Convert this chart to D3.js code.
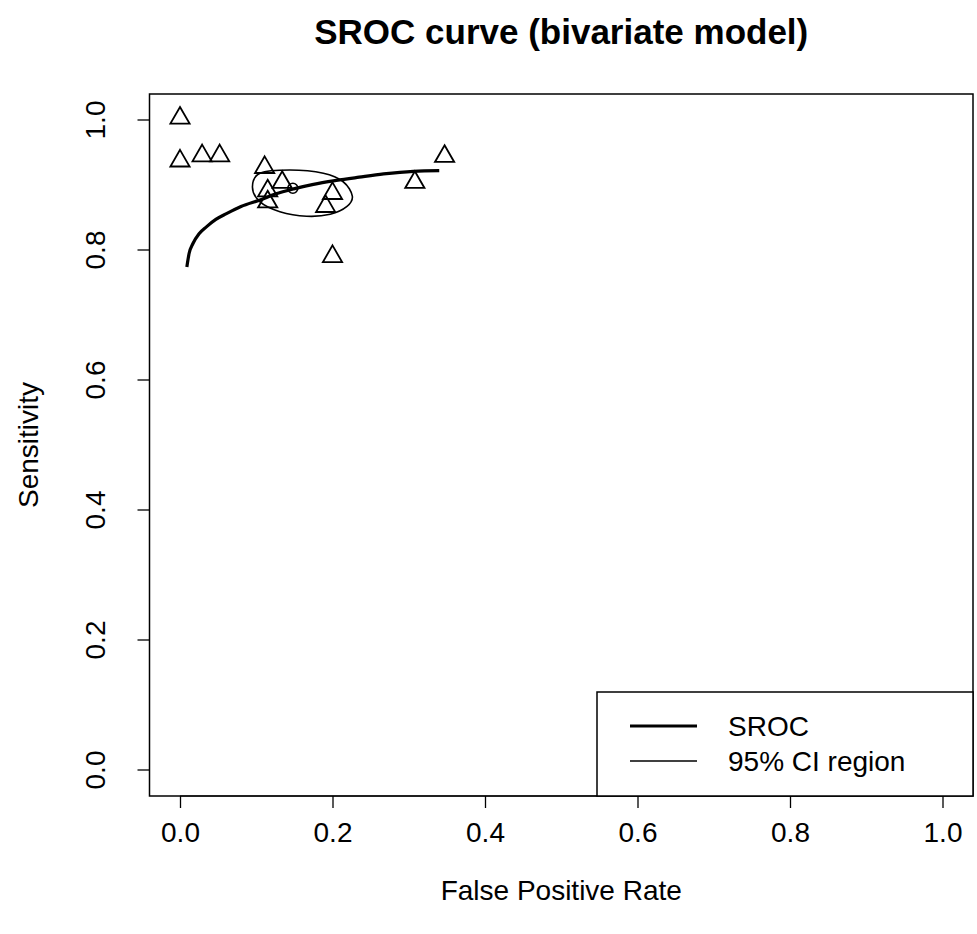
<!DOCTYPE html>
<html>
<head>
<meta charset="utf-8">
<script src="https://cdn.jsdelivr.net/npm/d3@7"></script>
<style>
  body { margin: 0; background: #fff; }
  svg text { font-family: "Liberation Sans", Arial, sans-serif; fill: #000; }
</style>
</head>
<body>
<div id="chart"></div>
<script>
// study estimates (false positive rate, sensitivity)
const studyFpr  = [0.000, 0.000, 0.029, 0.052, 0.111, 0.134, 0.115, 0.115, 0.200, 0.191, 0.200, 0.308, 0.347];
const studySens = [1.003, 0.937, 0.945, 0.945, 0.927, 0.904, 0.891, 0.874, 0.887, 0.867, 0.790, 0.904, 0.944];

// summary point
const summaryFpr = 0.148;
const summarySens = 0.895;

// SROC curve
const srocFpr  = [0.009, 0.012, 0.017, 0.025, 0.035, 0.047, 0.061, 0.080, 0.105, 0.125, 0.149, 0.175, 0.205, 0.235, 0.267, 0.306, 0.340];
const srocSens = [0.774, 0.795, 0.810, 0.825, 0.836, 0.847, 0.856, 0.867, 0.877, 0.886, 0.894, 0.901, 0.907, 0.912, 0.917, 0.921, 0.922];

// 95% confidence region outline
const ciFpr  = [0.105, 0.144, 0.188, 0.214, 0.226, 0.219, 0.197, 0.166, 0.131, 0.105, 0.095];
const ciSens = [0.918, 0.923, 0.918, 0.905, 0.883, 0.867, 0.855, 0.852, 0.859, 0.874, 0.897];

const tickVals = [0, 0.2, 0.4, 0.6, 0.8, 1.0];
const legendLabels = ["SROC", "95% CI region"];

//positional parameters
let svgWidth = 977;
let svgHeight = 934;
let plotLeft = 149.5, plotRight = 973, plotTop = 94, plotBottom = 796;

let svg = d3.select("#chart")
  .append("svg")
  .attr("width", svgWidth)
  .attr("height", svgHeight);

//scales with R style 4% padding
let xScale = d3.scaleLinear().domain([-0.04, 1.04]).range([plotLeft, plotRight]);
let yScale = d3.scaleLinear().domain([-0.04, 1.04]).range([plotBottom, plotTop]);

//x axis
let xAxis = d3.axisBottom(xScale)
  .tickValues(tickVals)
  .tickFormat(d3.format(".1f"))
  .tickSize(12)
  .tickPadding(14);
let xg = svg.append("g")
  .attr("transform", `translate(0,${plotBottom})`)
  .call(xAxis);
xg.select(".domain").attr("d", `M${xScale(0)},0H${xScale(1)}`);
xg.selectAll("line").attr("stroke", "#000").attr("stroke-width", 1.3);
xg.selectAll("text").attr("font-size", 28).attr("font-family", "Liberation Sans, Arial, sans-serif");

//y axis
let yAxis = d3.axisLeft(yScale)
  .tickValues(tickVals)
  .tickFormat(d3.format(".1f"))
  .tickSize(12);
let yg = svg.append("g")
  .attr("transform", `translate(${plotLeft},0)`)
  .call(yAxis);
yg.select(".domain").attr("d", `M0,${yScale(0)}V${yScale(1)}`);
yg.selectAll(".tick").attr("transform", null);
yg.selectAll("line")
  .attr("stroke", "#000").attr("stroke-width", 1.3)
  .attr("y1", d => yScale(d)).attr("y2", d => yScale(d));
yg.selectAll("text")
  .attr("font-size", 28)
  .attr("font-family", "Liberation Sans, Arial, sans-serif")
  .attr("x", null).attr("dy", null)
  .attr("text-anchor", "middle")
  .attr("transform", d => `translate(-54,${yScale(d)})rotate(-90)`)
  .attr("y", 0)
  .attr("dominant-baseline", "central");

//plot box
svg.append("rect")
  .attr("x", plotLeft).attr("y", plotTop)
  .attr("width", plotRight - plotLeft).attr("height", plotBottom - plotTop)
  .attr("fill", "none").attr("stroke", "#000").attr("stroke-width", 1.5);

//confidence region
let ciPts = ciFpr.map((d, i) => [d, ciSens[i]]);
let ciLine = d3.line()
  .x(d => xScale(d[0]))
  .y(d => yScale(d[1]))
  .curve(d3.curveCardinalClosed);
svg.append("path")
  .datum(ciPts)
  .attr("fill", "none")
  .attr("stroke", "#000")
  .attr("stroke-width", 1.6)
  .attr("d", ciLine);

//sroc curve
let srocPts = srocFpr.map((d, i) => [d, srocSens[i]]);
let srocLine = d3.line()
  .x(d => xScale(d[0]))
  .y(d => yScale(d[1]))
  .curve(d3.curveMonotoneX);
svg.append("path")
  .datum(srocPts)
  .attr("fill", "none")
  .attr("stroke", "#000")
  .attr("stroke-width", 3.2)
  .attr("d", srocLine);

//study points
let tri = d3.symbol().type(d3.symbolTriangle).size(160);
svg.append("g").selectAll("path")
  .data(studyFpr.map((d, i) => [d, studySens[i]]))
  .enter().append("path")
  .attr("d", tri)
  .attr("transform", d => `translate(${xScale(d[0])},${yScale(d[1])})`)
  .attr("fill", "none")
  .attr("stroke", "#000")
  .attr("stroke-width", 1.8);

//summary point
svg.append("circle")
  .attr("cx", xScale(summaryFpr)).attr("cy", yScale(summarySens))
  .attr("r", 5)
  .attr("fill", "none").attr("stroke", "#000").attr("stroke-width", 1.6);

//legend
let legX = 597, legY = 692;
svg.append("rect")
  .attr("x", legX).attr("y", legY)
  .attr("width", plotRight - legX).attr("height", plotBottom - legY)
  .attr("fill", "#fff").attr("stroke", "#000").attr("stroke-width", 1.5);
let legWidths = [3.2, 1.6];
legendLabels.forEach((lab, i) => {
  let ly = 726 + i * 35;
  svg.append("line")
    .attr("x1", 630).attr("x2", 697)
    .attr("y1", ly).attr("y2", ly)
    .attr("stroke", "#000").attr("stroke-width", legWidths[i]);
  svg.append("text")
    .attr("x", 728).attr("y", ly + 10)
    .attr("font-size", 28)
    .text(lab);
});

//titles
svg.append("text")
  .attr("x", (plotLeft + plotRight) / 2).attr("y", 44)
  .attr("text-anchor", "middle")
  .attr("font-size", 35)
  .attr("font-weight", "bold")
  .text("SROC curve (bivariate model)");

svg.append("text")
  .attr("x", (plotLeft + plotRight) / 2).attr("y", 900)
  .attr("text-anchor", "middle")
  .attr("font-size", 28)
  .text("False Positive Rate");

svg.append("text")
  .attr("transform", `translate(38,${(plotTop + plotBottom) / 2})rotate(-90)`)
  .attr("text-anchor", "middle")
  .attr("font-size", 28)
  .text("Sensitivity");
</script>
</body>
</html>
